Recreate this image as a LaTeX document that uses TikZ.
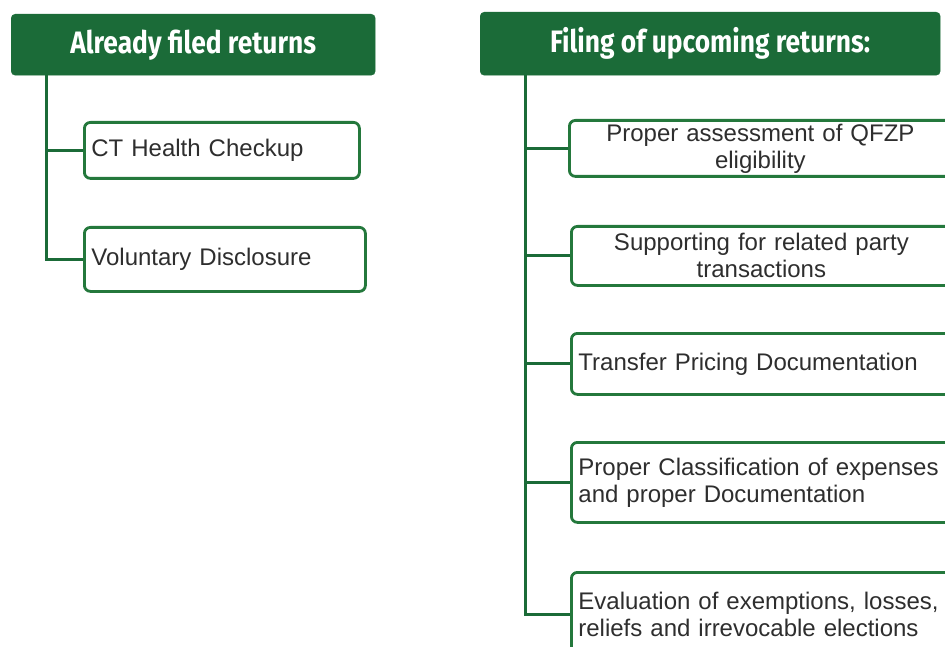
\documentclass[tikz,border=0pt]{standalone}
\usepackage{fontspec}
\setmainfont{Liberation Sans}
\newfontfamily\headfont[FakeStretch=0.85]{Fira Sans}
\usetikzlibrary{positioning}
\definecolor{headgreen}{HTML}{1B6B38}
\definecolor{boxgreen}{HTML}{24783C}
\definecolor{textgrey}{HTML}{2E2E2E}

\tikzset{
  headbox/.style={fill=headgreen, draw=headgreen, rounded corners=4pt, text=white,
    font=\headfont\bfseries\fontsize{31}{34}\selectfont, anchor=north west, inner sep=0pt},
  itembox/.style={draw=boxgreen, line width=2.8pt, rounded corners=6pt, fill=white,
    text=textgrey, font=\fontsize{24}{27}\selectfont, anchor=north west,
    inner xsep=7pt, inner ysep=0pt, text width=#1},
  branch/.style={draw=headgreen, line width=3pt}
}

\begin{document}
\begin{tikzpicture}[x=1pt,y=-1pt]
  \useasboundingbox (0,0) rectangle (945,647);
  \clip (0,0) rectangle (945,647);

  % left column
  \node[headbox, minimum width=364pt, minimum height=61pt] (filed) at (11,14) {Already filed returns};
  \node[itembox=261pt, minimum height=56pt] (health) at (83,121) {CT Health Checkup};
  \node[itembox=267pt, minimum height=64pt] (disclose) at (83,226) {Voluntary Disclosure};
  \coordinate (spineL) at (46,75);
  \draw[branch] (spineL) |- (health.west);
  \draw[branch] (spineL) |- (disclose.west);

  % right column
  \node[headbox, minimum width=460pt, minimum height=63pt] (upcoming) at (480,12) {Filing of upcoming returns:};
  \node[itembox=368pt, minimum height=56pt, align=center] (qfzp) at (568,119) {Proper assessment of QFZP\\eligibility};
  \node[itembox=366pt, minimum height=59pt, align=center] (related) at (570,225) {Supporting for related party\\transactions};
  \node[itembox=366pt, minimum height=61pt] (pricing) at (570,332) {Transfer Pricing Documentation};
  \node[itembox=366pt, minimum height=80pt] (expenses) at (570,441) {Proper Classification of expenses\\and proper Documentation};
  \node[itembox=366pt, minimum height=84pt] (elections) at (570,571) {Evaluation of exemptions, losses,\\reliefs and irrevocable elections};
  \coordinate (spineR) at (525,75);
  \foreach \n in {qfzp,related,pricing,expenses,elections}
    \draw[branch] (spineR) |- (\n.west);
\end{tikzpicture}
\end{document}
